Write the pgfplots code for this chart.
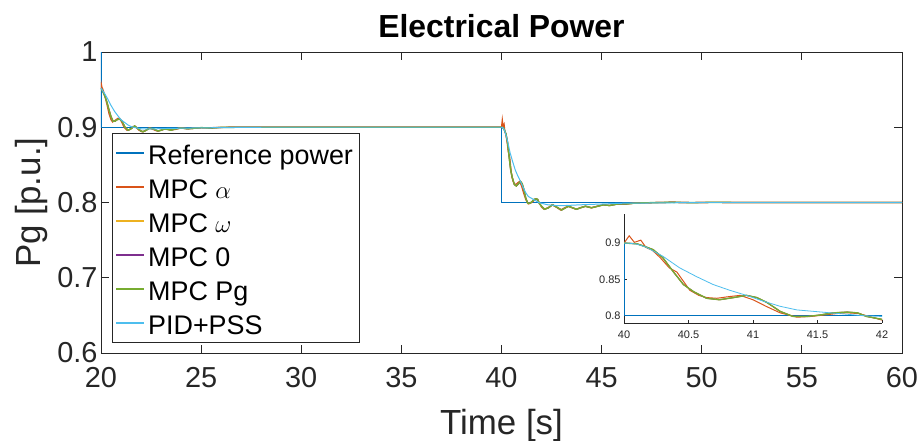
\documentclass[border=0pt]{standalone}
\usepackage{pgfplots}
\pgfplotsset{compat=1.18}
\usepackage{pgfplotstable}
\usepackage{fontspec}
\setmainfont{Liberation Sans}
\definecolor{refblue}{RGB}{0,114,189}
\definecolor{mpca}{RGB}{217,83,25}
\definecolor{mpcw}{RGB}{237,177,32}
\definecolor{mpcz}{RGB}{126,47,142}
\definecolor{mpcpg}{RGB}{119,172,48}
\definecolor{pidc}{RGB}{77,190,238}
\definecolor{axgray}{RGB}{38,38,38}

\pgfplotstableread{
t P
20 1
20 0.9
40 0.9
40 0.8
60 0.8
}\refdata

\pgfplotstableread{
t P
20.00 0.951
20.02 0.957
20.05 0.953
20.10 0.950
20.20 0.941
20.30 0.930
20.40 0.918
20.50 0.910
20.58 0.907
20.70 0.909
20.85 0.912
20.95 0.911
21.05 0.906
21.15 0.900
21.30 0.896
21.45 0.897
21.60 0.901
21.75 0.900
21.90 0.896
22.05 0.894
22.20 0.895
22.40 0.899
22.60 0.897
22.80 0.895
23.00 0.896
23.20 0.898
23.45 0.897
23.70 0.897
24.00 0.899
24.40 0.898
24.80 0.899
25.50 0.8995
26.50 0.900
40.00 0.900
40.04 0.910
40.08 0.901
40.13 0.904
40.17 0.894
40.22 0.890
40.28 0.880
40.35 0.866
40.38 0.863
40.41 0.860
40.45 0.850
40.51 0.835
40.58 0.828
40.64 0.825
40.72 0.824
40.80 0.826
40.90 0.828
41.00 0.822
41.10 0.813
41.21 0.804
41.34 0.798
41.45 0.799
41.55 0.801
41.65 0.803
41.73 0.804
41.82 0.803
41.90 0.799
42.00 0.794
42.12 0.791
42.32 0.793
42.52 0.797
42.72 0.794
42.95 0.790
43.15 0.793
43.32 0.795
43.52 0.793
43.72 0.791
43.92 0.793
44.17 0.795
44.47 0.793
44.77 0.795
45.07 0.797
45.37 0.796
45.77 0.798
46.17 0.798
46.60 0.799
47.00 0.7995
47.50 0.7998
48.00 0.800
48.50 0.8003
49.50 0.7998
50.50 0.8002
52.00 0.800
60.00 0.800
}\mpcadata

\pgfplotstableread{
t P
20.00 0.952
20.10 0.947
20.20 0.941
20.30 0.933
20.40 0.923
20.50 0.914
20.60 0.908
20.70 0.908
20.80 0.910
20.93 0.911
21.05 0.908
21.20 0.900
21.35 0.896
21.50 0.898
21.68 0.9017
21.85 0.898
22.00 0.895
22.10 0.894
22.25 0.896
22.43 0.8987
22.60 0.898
22.85 0.895
23.00 0.896
23.18 0.8977
23.35 0.897
23.50 0.896
23.75 0.898
24.00 0.899
24.30 0.898
24.60 0.8985
25.00 0.8995
25.50 0.899
26.00 0.8998
27.00 0.900
40.00 0.900
40.10 0.899
40.15 0.896
40.225 0.891
40.30 0.880
40.38 0.861
40.46 0.843
40.54 0.833
40.64 0.824
40.74 0.822
40.85 0.825
40.95 0.828
41.03 0.825
41.11 0.818
41.21 0.806
41.31 0.799
41.42 0.799
41.52 0.801
41.62 0.804
41.73 0.805
41.81 0.804
41.88 0.799
42.00 0.795
42.15 0.791
42.35 0.793
42.55 0.797
42.75 0.794
43.00 0.790
43.20 0.793
43.35 0.795
43.55 0.793
43.75 0.791
43.95 0.793
44.20 0.795
44.50 0.793
44.80 0.795
45.10 0.797
45.40 0.796
45.80 0.798
46.20 0.798
46.60 0.799
47.00 0.7995
47.50 0.7998
48.00 0.800
48.50 0.8003
49.50 0.7998
50.50 0.8002
52.00 0.800
60.00 0.800
}\mpcdata

\pgfplotstableread{
t P
20.00 0.952
20.10 0.948
20.20 0.944
20.35 0.937
20.50 0.929
20.68 0.921
20.85 0.915
21.00 0.910
21.20 0.906
21.35 0.903
21.50 0.901
21.68 0.8996
22.00 0.898
22.35 0.8977
22.80 0.898
23.50 0.8985
24.50 0.899
26.00 0.8995
28.00 0.900
40.00 0.900
40.05 0.8996
40.10 0.8985
40.17 0.8945
40.30 0.882
40.43 0.866
40.56 0.854
40.69 0.843
40.82 0.835
40.95 0.828
41.08 0.820
41.21 0.813
41.34 0.808
41.47 0.806
41.60 0.804
41.73 0.802
41.86 0.800
42.00 0.799
42.30 0.797
42.70 0.796
43.20 0.796
44.00 0.797
45.00 0.798
46.00 0.799
48.00 0.7995
50.00 0.800
60.00 0.800
}\piddata

\begin{document}
\begin{tikzpicture}
\path[use as bounding box] (-101bp,-88bp) rectangle (822bp,353bp);
\begin{axis}[
  at={(0bp,0bp)}, anchor=south west,
  scale only axis, width=801bp, height=301bp,
  xmin=20, xmax=60, ymin=0.6, ymax=1,
  xtick={20,25,30,35,40,45,50,55,60},
  ytick={0.6,0.7,0.8,0.9,1},
  tick align=inside, major tick length=8bp,
  axis line style={draw=axgray, line width=0.8pt},
  every tick/.style={draw=axgray, line width=0.8pt},
  /pgf/number format/assume math mode=true,
  tick label style={font=\fontsize{29}{30}\selectfont, color=axgray},
  xticklabel style={yshift=-11bp},
  xlabel={Time [s]}, ylabel={Pg [p.u.]},
  label style={font=\fontsize{35}{36}\selectfont, color=axgray},
  xlabel style={at={(axis description cs:0.5,-0.2724)}, anchor=base},
  ylabel style={at={(axis description cs:-0.0749,0.5)}, anchor=base},
  every axis title shift=0pt,
  title={Electrical Power},
  title style={at={(axis description cs:0.5,1.0498)}, anchor=base, font=\bfseries\fontsize{32}{33}\selectfont},
  legend cell align=left,
  legend image code/.code={\draw[#1, line width=1.8pt] (0bp,0bp) -- (28bp,0bp);},
  legend style={at={(axis description cs:0.0137,0.033)}, anchor=south west,
    draw=axgray, line width=0.8pt, fill=white,
    font=\fontsize{27}{28}\selectfont,
    inner xsep=3bp, inner ysep=5.5bp, row sep=6bp,
    nodes={inner xsep=3bp, inner ysep=0bp, text height=25bp, text depth=3bp}},
]
\addplot[draw=refblue, line width=1.4pt] table[x=t,y=P] {\refdata};
\addlegendentry{Reference power}
\addplot[draw=mpca, line width=1.2pt] table[x=t,y=P] {\mpcadata};
\addlegendentry{MPC $\alpha$}
\addplot[draw=mpcw, line width=1.2pt] table[x=t,y=P] {\mpcdata};
\addlegendentry{MPC $\omega$}
\addplot[draw=mpcz, line width=1.2pt] table[x=t,y=P] {\mpcdata};
\addlegendentry{MPC 0}
\addplot[draw=mpcpg, line width=1.4pt] table[x=t,y=P] {\mpcdata};
\addlegendentry{MPC Pg}
\addplot[draw=pidc, line width=1pt] table[x=t,y=P] {\piddata};
\addlegendentry{PID+PSS}
\end{axis}
\begin{axis}[
  at={(523bp,30bp)}, anchor=south west,
  scale only axis, width=258bp, height=109bp,
  xmin=40, xmax=42, ymin=0.79, ymax=0.94,
  axis lines*=left,
  axis background/.style={fill=white},
  xtick={40,40.5,41,41.5,42}, ytick={0.8,0.85,0.9},
  tick align=inside, major tick length=3bp,
  axis line style={draw=axgray, line width=0.6pt},
  every tick/.style={draw=axgray, line width=0.6pt},
  /pgf/number format/assume math mode=true,
  tick label style={font=\fontsize{11}{12}\selectfont, color=axgray},
  xticklabel style={yshift=-4bp},
]
\addplot[draw=refblue, line width=1.2pt] table[x=t,y=P] {\refdata};
\addplot[draw=mpca, line width=1pt] table[x=t,y=P] {\mpcadata};
\addplot[draw=mpcw, line width=1pt] table[x=t,y=P] {\mpcdata};
\addplot[draw=mpcz, line width=1pt] table[x=t,y=P] {\mpcdata};
\addplot[draw=mpcpg, line width=1.3pt] table[x=t,y=P] {\mpcdata};
\addplot[draw=pidc, line width=0.8pt] table[x=t,y=P] {\piddata};
\end{axis}
\end{tikzpicture}
\end{document}
